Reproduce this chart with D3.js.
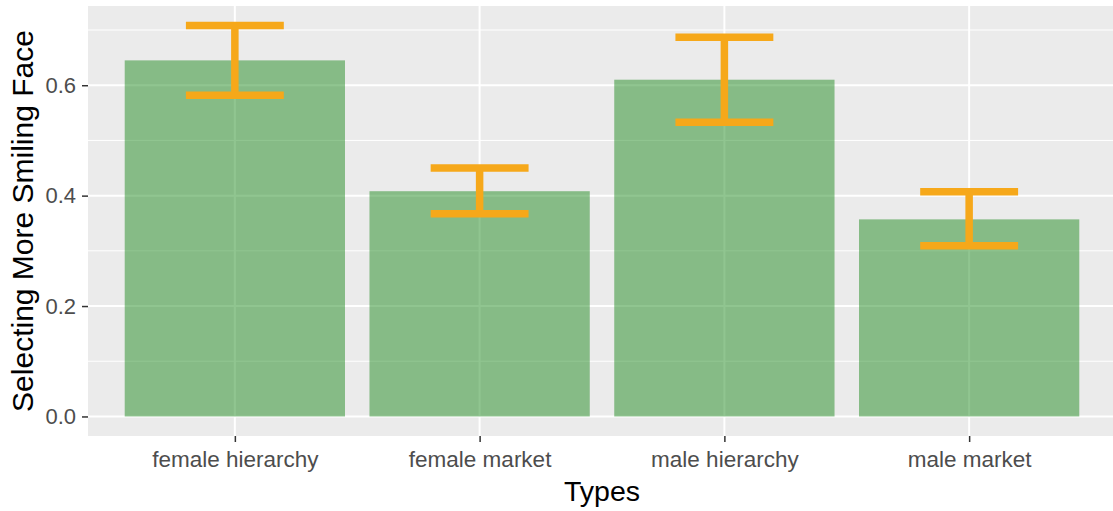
<!DOCTYPE html>
<html><head><meta charset="utf-8">
<script src="https://cdn.jsdelivr.net/npm/d3@7"></script>
<style>body{margin:0;background:#fff;} svg{display:block;}</style>
</head><body>
<svg id="c" width="1113" height="511"></svg>
<script>
const categories = ["female hierarchy", "female market", "male hierarchy", "male market"];
const means = [0.645, 0.408, 0.610, 0.357];
const upper = [0.708, 0.450, 0.687, 0.407];
const lower = [0.582, 0.367, 0.533, 0.309];
const yTicks = [0.0, 0.2, 0.4, 0.6];
const yMinor = [0.1, 0.3, 0.5, 0.7];

const FONT = "Liberation Sans, Arial, sans-serif";
const svg = d3.select("#c");
const pL = 88, pR = 1116, pT = 6, pB = 436;

const x = d3.scalePoint().domain(categories).range([pL, pR]).padding(0.6);
const step = x.step();
const y = d3.scaleLinear().domain([-0.0354, 0.7435]).range([pB, pT]);

svg.append("rect").attr("x", pL).attr("y", pT).attr("width", pR - pL).attr("height", pB - pT).attr("fill", "#EBEBEB");

const g = svg.append("g");
g.selectAll(".minor").data(yMinor).join("line")
  .attr("x1", pL).attr("x2", pR).attr("y1", d => y(d)).attr("y2", d => y(d))
  .attr("stroke", "#fff").attr("stroke-width", 1);
g.selectAll(".majorh").data(yTicks).join("line")
  .attr("x1", pL).attr("x2", pR).attr("y1", d => y(d)).attr("y2", d => y(d))
  .attr("stroke", "#fff").attr("stroke-width", 2);
g.selectAll(".majorv").data(categories).join("line")
  .attr("x1", d => x(d)).attr("x2", d => x(d)).attr("y1", pT).attr("y2", pB)
  .attr("stroke", "#fff").attr("stroke-width", 2);

const bw = step * 0.9;
svg.selectAll(".bar").data(categories).join("rect")
  .attr("x", d => x(d) - bw / 2).attr("width", bw)
  .attr("y", (d, i) => y(means[i])).attr("height", (d, i) => y(0) - y(means[i]))
  .attr("fill", "#228B22").attr("fill-opacity", 0.5);

const ew = step * 0.4;
const eb = svg.append("g").attr("stroke", "#F6A81A").attr("stroke-width", 7.5);
categories.forEach((c, i) => {
  const cx = x(c);
  eb.append("line").attr("x1", cx).attr("x2", cx).attr("y1", y(upper[i])).attr("y2", y(lower[i]));
  eb.append("line").attr("x1", cx - ew / 2).attr("x2", cx + ew / 2).attr("y1", y(upper[i])).attr("y2", y(upper[i]));
  eb.append("line").attr("x1", cx - ew / 2).attr("x2", cx + ew / 2).attr("y1", y(lower[i])).attr("y2", y(lower[i]));
});

const yAxis = svg.append("g").attr("transform", `translate(${pL},0)`)
  .call(d3.axisLeft(y).tickValues(yTicks).tickFormat(d3.format(".1f")).tickSize(6).tickPadding(6));
yAxis.select(".domain").remove();
yAxis.selectAll("line").attr("stroke", "#333").attr("stroke-width", 1.5);
yAxis.selectAll("text").attr("fill", "#4D4D4D").style("font-family", FONT).style("font-size", "22px");

const xAxis = svg.append("g").attr("transform", `translate(0,${pB})`)
  .call(d3.axisBottom(x).tickSize(6).tickPadding(9));
xAxis.select(".domain").remove();
xAxis.selectAll("line").attr("stroke", "#333").attr("stroke-width", 1.5);
xAxis.selectAll("text").attr("fill", "#4D4D4D").style("font-family", FONT).style("font-size", "22.5px");

svg.append("text").attr("x", (pL + pR) / 2).attr("y", 501)
  .attr("text-anchor", "middle").style("font-family", FONT).style("font-size", "28.5px")
  .attr("fill", "#000").text("Types");
svg.append("text").attr("transform", `translate(33,${(pT + pB) / 2}) rotate(-90)`)
  .attr("text-anchor", "middle").style("font-family", FONT).style("font-size", "30px")
  .attr("fill", "#000").text("Selecting More Smiling Face");
</script>
</body></html>
